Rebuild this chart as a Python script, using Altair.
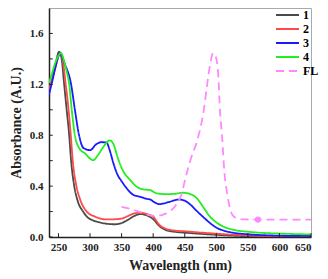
import altair as alt
import pandas as pd

# ---- data ----
x1 = [235, 240, 245, 251, 255, 259, 263, 267, 270, 275, 280, 289, 295, 305, 315, 325, 340,
      350, 360, 370, 380, 390, 400, 410, 420, 435, 450, 475, 500, 550, 600, 650]
y1 = [1.14, 1.24, 1.35, 1.456, 1.40, 1.20, 1.00, 0.80, 0.60, 0.40, 0.29, 0.20, 0.16, 0.13, 0.115, 0.105, 0.10,
      0.11, 0.135, 0.165, 0.18, 0.17, 0.14, 0.085, 0.055, 0.04, 0.034, 0.025, 0.017, 0.006, 0.002, 0.0]

x2 = [235, 240, 245, 250, 253.7, 257, 261.5, 266, 269.5, 272.6, 278.4, 284, 294.7, 308, 326, 340,
      350, 360, 370, 380, 390, 400, 410, 420, 435, 450, 475, 500, 525, 550, 600, 650]
y2 = [1.16, 1.24, 1.33, 1.42, 1.445, 1.38, 1.20, 1.00, 0.80, 0.60, 0.40, 0.30, 0.20, 0.16, 0.138, 0.14,
      0.145, 0.165, 0.185, 0.19, 0.18, 0.16, 0.095, 0.065, 0.05, 0.045, 0.035, 0.026, 0.018, 0.013, 0.005, 0.002]

x3 = [235, 240, 245, 252.6, 260, 270, 276, 282.6, 289.5, 300, 310, 318, 326, 331, 337, 342.6,
      350.5, 358.5, 369, 379.7, 390, 395, 403, 410, 418, 426, 442, 452, 460, 468, 482, 490, 500,
      512, 526, 552, 605, 650]
y3 = [1.12, 1.22, 1.33, 1.445, 1.36, 1.20, 1.00, 0.80, 0.70, 0.683, 0.73, 0.745, 0.743, 0.685, 0.58, 0.50,
      0.435, 0.38, 0.33, 0.316, 0.30, 0.295, 0.27, 0.258, 0.265, 0.277, 0.295, 0.28, 0.25, 0.21, 0.145, 0.11, 0.074,
      0.05, 0.034, 0.021, 0.01, 0.008]

x4 = [235, 240, 245, 254, 259, 263, 267, 271, 276, 282.6, 292, 305, 312, 320, 326, 331.4, 337,
      345, 353, 363.5, 374, 384.6, 395, 405.6, 421, 435, 447, 460, 470, 480, 490, 500, 512, 526,
      553, 605, 650]
y4 = [1.21, 1.29, 1.37, 1.445, 1.38, 1.30, 1.20, 1.00, 0.80, 0.70, 0.657, 0.604, 0.64, 0.70, 0.74, 0.76, 0.73,
      0.606, 0.514, 0.448, 0.395, 0.374, 0.369, 0.343, 0.337, 0.34, 0.348, 0.335, 0.30, 0.23, 0.16, 0.115, 0.08, 0.058,
      0.04, 0.026, 0.02]

xfl = [350, 365, 380, 395, 405, 418, 427, 434, 445, 452, 460, 468, 474, 480, 485, 490, 495, 499,
       503, 506, 509, 513, 518, 522, 526, 534, 545, 566, 650]
yfl = [0.237, 0.22, 0.195, 0.17, 0.165, 0.18, 0.205, 0.237, 0.34, 0.48, 0.62, 0.73, 0.84, 0.99, 1.18, 1.35, 1.445, 1.42,
       1.28, 0.98, 0.80, 0.50, 0.32, 0.22, 0.17, 0.145, 0.138, 0.137, 0.137]

marker_x = [566]
marker_y = [0.137]

series_names = ["1", "2", "3", "4", "FL"]
series_colors = ["#4a4a4a", "#ff4a4a", "#1a1aff", "#22ee22", "#ff88ff"]

x_ticks = [250, 300, 350, 400, 450, 500, 550, 600, 650]
y_ticks = [0.0, 0.2, 0.4, 0.6, 0.8, 1.0, 1.2, 1.4, 1.6]
y_labels = [0.0, 0.4, 0.8, 1.2, 1.6]

rows = []
for name, xs, ys in zip(series_names, [x1, x2, x3, x4, xfl], [y1, y2, y3, y4, yfl]):
    for i, (a, b) in enumerate(zip(xs, ys)):
        rows.append({"series": name, "wl": a, "abs": b, "order": i})
df = pd.DataFrame(rows)

FONT = "Liberation Serif"
xscale = alt.Scale(domain=[235, 650], nice=False, zero=False)
yscale = alt.Scale(domain=[0, 1.8], nice=False)

xaxis = alt.Axis(title="Wavelength (nm)", values=x_ticks, tickSize=0, labelPadding=4,
                 labelOverlap=False, grid=False, domainColor="#222", domainWidth=1.5, format="d")
yaxis = alt.Axis(title="Absorbance (A.U.)", values=y_labels, tickSize=0, labelPadding=6,
                 labelOverlap=False, grid=False, domainColor="#222", domainWidth=1.5, format=".1f")

lines = alt.Chart(df).mark_line(strokeWidth=1.8, interpolate="monotone", clip=True).encode(
    x=alt.X("wl:Q", scale=xscale, axis=xaxis),
    y=alt.Y("abs:Q", scale=yscale, axis=yaxis),
    color=alt.Color("series:N", scale=alt.Scale(domain=series_names, range=series_colors),
                    legend=alt.Legend(title=None, orient="none", legendX=226, legendY=1,
                                      symbolType="stroke", symbolSize=529, symbolStrokeWidth=2,
                                      clipHeight=12, rowPadding=2,
                                      labelFont=FONT, labelFontWeight="bold", labelFontSize=12,
                                      padding=0, labelOffset=3)),
    strokeDash=alt.StrokeDash("series:N",
                              scale=alt.Scale(domain=series_names,
                                              range=[[1, 0], [1, 0], [1, 0], [1, 0], [8, 5]]),
                              legend=None),
    order="order:Q",
)

marker = alt.Chart(pd.DataFrame({"wl": marker_x, "abs": marker_y})).mark_point(
    filled=True, color="#ff88ff", size=40, opacity=1).encode(
    x=alt.X("wl:Q", scale=xscale, axis=xaxis), y=alt.Y("abs:Q", scale=yscale, axis=yaxis))

xt = alt.Chart(pd.DataFrame({"wl": x_ticks})).mark_rule(color="#222", strokeWidth=1).encode(
    x=alt.X("wl:Q", scale=xscale, axis=xaxis), y=alt.datum(0, scale=yscale, axis=yaxis), y2=alt.datum(0.03))

yt = alt.Chart(pd.DataFrame({"abs": y_ticks})).mark_rule(color="#222", strokeWidth=1).encode(
    y=alt.Y("abs:Q", scale=yscale, axis=yaxis), x=alt.datum(235, scale=xscale, axis=xaxis), x2=alt.datum(241))

chart = alt.layer(lines, marker, xt, yt).properties(
    width=262, height=229,
    autosize=alt.AutoSizeParams(type="none"),
    padding={"left": 49, "top": 8, "right": 17, "bottom": 42},
).configure_view(stroke="#aaaaaa", strokeWidth=1).configure_axis(
    labelFont=FONT, labelFontWeight="bold", labelFontSize=11, labelColor="#222",
    titleFont=FONT, titleFontWeight="bold", titleFontSize=14, titleColor="#222",
    labelOverlap=False,
).configure_axisX(titlePadding=6).configure_axisY(titlePadding=6)

chart.save("out.html", embed_options={"renderer": "svg", "actions": False})
